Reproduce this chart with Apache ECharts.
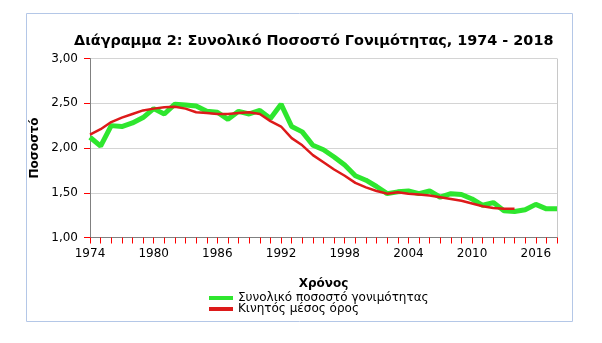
<!DOCTYPE html>
<html>
<head>
<meta charset="utf-8">
<script src="https://cdn.jsdelivr.net/npm/echarts@6/dist/echarts.min.js"></script>
<style>
  html, body { margin: 0; padding: 0; background: #fff; }
  #chart { width: 602px; height: 343px; }
</style>
</head>
<body>
<div id="chart"></div>
<script>
// Years 1974 - 2018
const years = [];
for (let y = 1974; y <= 2018; y++) years.push(String(y));

// Total fertility rate
const fertility = [
  2.12, 2.02, 2.25, 2.24, 2.28, 2.34, 2.44, 2.38, 2.49, 2.48,
  2.47, 2.41, 2.40, 2.32, 2.41, 2.38, 2.42, 2.33, 2.49, 2.24,
  2.18, 2.03, 1.98, 1.90, 1.81, 1.69, 1.64, 1.57, 1.49, 1.51,
  1.52, 1.49, 1.52, 1.45, 1.49, 1.48, 1.43, 1.36, 1.39, 1.30,
  1.29, 1.31, 1.37, 1.32, 1.32
];

// Moving average (ends in 2014)
const movingAvg = [
  2.15, 2.21, 2.29, 2.34, 2.38, 2.42, 2.44, 2.455, 2.46, 2.44,
  2.40, 2.39, 2.38, 2.38, 2.39, 2.40, 2.38, 2.30, 2.24, 2.11,
  2.03, 1.92, 1.84, 1.76, 1.69, 1.61, 1.56, 1.52, 1.49, 1.505,
  1.49, 1.48, 1.47, 1.45, 1.43, 1.41, 1.38, 1.35, 1.33, 1.32,
  1.32
];

const yTicks = { min: 1, max: 3, interval: 0.5 };

const chart = echarts.init(document.getElementById('chart'));
const font = 'DejaVu Sans, Verdana, sans-serif';
const axisGray = '#808080';
const tickColor = '#ff0000';
const green = '#2ee62e';
const red = '#dd1a1a';

// Plot area box (matches the grid below)
const plot = { left: 90, right: 45, top: 58.5, bottom: 105.5 };

chart.setOption({
  animation: false,
  graphic: [{
    type: 'rect',
    shape: { x: 26.5, y: 13.5, width: 546, height: 308 },
    style: { fill: 'none', stroke: '#b4c7e7', lineWidth: 1 },
    silent: true
  }, {
    type: 'line',
    shape: { x1: 602 - plot.right + 0.5, y1: plot.top, x2: 602 - plot.right + 0.5, y2: 343 - plot.bottom },
    style: { stroke: '#c8c8c8', lineWidth: 1 },
    silent: true
  }],
  title: {
    text: 'Διάγραμμα 2: Συνολικό Ποσοστό Γονιμότητας, 1974 - 2018',
    left: 69, top: 29,
    textStyle: { fontFamily: font, fontSize: 14.4, fontWeight: 'bold', color: '#000' }
  },
  legend: {
    orient: 'vertical',
    left: 204, top: 287,
    itemWidth: 24, itemHeight: 4, itemGap: -1,
    textStyle: { fontFamily: font, fontSize: 12, color: '#000' },
    data: [
      { name: 'Συνολικό ποσοστό γονιμότητας', icon: 'rect', itemStyle: { color: green } },
      { name: 'Κινητός μέσος όρος', icon: 'rect', itemStyle: { color: red } }
    ]
  },
  grid: plot,
  xAxis: {
    type: 'category', data: years, boundaryGap: false,
    name: 'Χρόνος', nameLocation: 'middle', nameGap: 40,
    nameTextStyle: { fontFamily: font, fontSize: 12, fontWeight: 'bold', color: '#000' },
    axisLine: { show: true, lineStyle: { color: axisGray } },
    axisTick: { show: true, interval: 0, length: 6, lineStyle: { color: tickColor, width: 1 } },
    axisLabel: { interval: 5, margin: 10, fontFamily: font, fontSize: 12, color: '#000' }
  },
  yAxis: {
    type: 'value', min: yTicks.min, max: yTicks.max, interval: yTicks.interval,
    name: 'Ποσοστό', nameLocation: 'middle', nameGap: 38, nameRotate: 90,
    nameTextStyle: { fontFamily: font, fontSize: 12, fontWeight: 'bold', color: '#000' },
    axisLine: { show: true, lineStyle: { color: axisGray } },
    axisTick: { show: true, length: 6, lineStyle: { color: tickColor, width: 1 } },
    axisLabel: {
      margin: 12, fontFamily: font, fontSize: 12, color: '#000',
      formatter: v => v.toFixed(2).replace('.', ',')
    },
    splitLine: { lineStyle: { color: '#d4d4d4' } }
  },
  series: [{
    name: 'Συνολικό ποσοστό γονιμότητας',
    type: 'line', data: fertility, symbol: 'none',
    lineStyle: { color: green, width: 5 }, itemStyle: { color: green },
    z: 2
  }, {
    name: 'Κινητός μέσος όρος',
    type: 'line', data: movingAvg, symbol: 'none',
    lineStyle: { color: red, width: 2.5 }, itemStyle: { color: red },
    z: 3
  }]
});
</script>
</body>
</html>
